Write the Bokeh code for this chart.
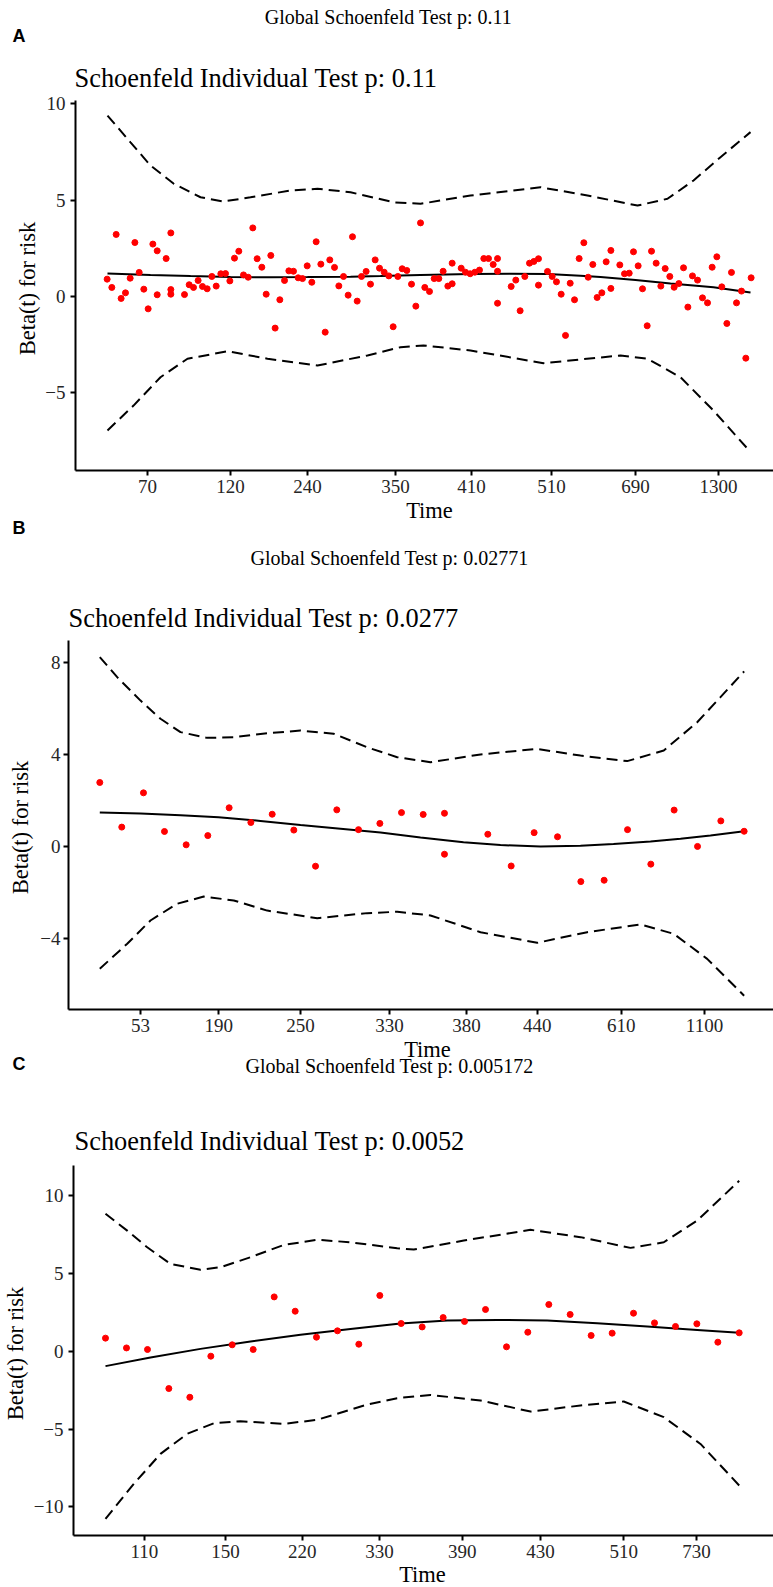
import math
from bokeh.plotting import figure
from bokeh.models import Range1d, FixedTicker, LinearAxis
from bokeh.core.properties import value
from bokeh.embed import file_html
from bokeh.resources import INLINE

# ------------------------------------------------------------------
# Panel A  (x = KM-transformed time, arbitrary units; y = Beta(t))
# ------------------------------------------------------------------
a_global = "Global Schoenfeld Test p: 0.11"
a_sub = "Schoenfeld Individual Test p: 0.11"
a_x = [4.52, 5.19, 5.81, 6.52, 7.14, 7.81, 8.48, 9.10, 9.76, 10.38, 11.05, 11.67, 11.67,
       12.95, 13.62, 13.62, 13.62, 15.57, 16.24, 16.86, 17.52, 18.14, 18.81, 19.48, 20.10,
       20.76, 21.43, 22.05, 22.71, 23.33, 24.00, 24.67, 25.33, 25.95, 26.62, 27.24, 27.90,
       28.52, 29.19, 29.86, 30.48, 31.14, 31.81, 32.43, 33.10, 33.76, 34.38, 35.05, 35.67,
       36.33, 37.00, 37.62, 38.29, 38.95, 39.57, 40.24, 40.86, 41.52, 42.14, 42.81, 43.43,
       44.10, 44.76, 45.38, 46.05, 46.67, 47.33, 48.00, 48.62, 49.29, 49.90, 50.57, 51.24,
       51.90, 52.52, 53.19, 53.81, 53.81, 55.10, 55.71, 56.38, 57.05, 57.71, 58.33, 59.00,
       59.67, 60.29, 60.29, 60.29, 62.24, 62.90, 63.52, 64.19, 64.86, 65.48, 66.14, 66.14,
       67.43, 68.10, 68.71, 69.38, 70.00, 70.67, 71.29, 71.95, 72.62, 73.24, 73.90, 74.52,
       75.19, 75.81, 76.48, 76.48, 77.76, 78.43, 79.10, 79.71, 80.38, 81.00, 81.67, 82.29,
       82.95, 83.62, 84.24, 84.90, 85.52, 86.19, 86.86, 87.48, 88.14, 88.86, 89.57, 90.29,
       90.95, 91.62, 92.33, 93.05, 93.71, 94.43, 95.14, 95.76, 96.52]
a_y = [0.90, 0.47, 3.22, -0.10, 0.19, 0.95, 2.80, 1.25, 0.38, -0.64, 2.72, 2.37, 0.09,
       1.97, 3.30, 0.36, 0.12, 0.10, 0.61, 0.47, 0.83, 0.52, 0.40, 1.04, 0.54,
       1.18, 1.19, 0.81, 1.99, 2.35, 1.12, 1.00, 3.56, 1.96, 1.52, 0.12, 2.13,
       -1.64, -0.17, 0.83, 1.33, 1.31, 0.97, 0.93, 1.59, 0.74, 2.84, 1.68, -1.85,
       1.90, 1.51, 0.55, 1.04, 0.07, 3.10, -0.24, 1.04, 1.30, 0.64, 1.90, 1.47,
       1.26, 1.07, -1.57, 1.04, 1.44, 1.35, 0.64, -0.50, 3.82, 0.47, 0.26, 0.93,
       0.93, 1.31, 0.54, 0.66, 1.73, 1.47, 1.26, 1.18, 1.26, 1.37, 1.97, 1.97,
       1.66, 1.97, 1.31, -0.35, 0.52, 0.85, -0.74, 1.04, 1.73, 1.82, 1.96, 0.59,
       1.30, 1.04, 0.76, 0.12, -2.02, 0.69, -0.17, 1.97, 2.79, 1.00, 1.66, -0.05,
       0.19, 1.80, 2.39, 0.42, 1.64, 1.18, 1.21, 2.32, 1.59, 0.40, -1.52, 2.35,
       1.73, 0.54, 1.45, 1.04, 0.48, 0.67, 1.49, -0.55, 1.07, 0.85, -0.07, -0.33,
       1.52, 2.06, 0.50, -1.40, 1.25, -0.33, 0.28, -3.20, 0.97]
a_fit_x = [4.57, 10.71, 16.43, 22.14, 27.86, 33.14, 39.29, 43.57, 49.29, 56.43, 62.14,
           67.43, 72.14, 75.00, 80.00, 85.00, 91.14, 96.43]
a_fit_y = [1.19, 1.12, 1.06, 1.01, 1.00, 1.01, 1.03, 1.06, 1.11, 1.17, 1.18,
           1.17, 1.08, 1.01, 0.85, 0.68, 0.48, 0.21]
a_up_x = [4.57, 7.86, 10.71, 14.00, 17.86, 21.14, 25.00, 30.71, 34.57, 39.29, 45.43,
          49.29, 56.43, 66.43, 73.14, 80.29, 84.57, 88.29, 92.14, 96.43]
a_up_y = [9.39, 8.00, 6.80, 5.86, 5.15, 4.93, 5.15, 5.50, 5.59, 5.41, 4.89,
          4.81, 5.24, 5.67, 5.24, 4.72, 5.07, 6.02, 7.23, 8.53]
a_lo_x = [4.57, 8.29, 12.14, 16.00, 21.71, 27.43, 34.57, 41.71, 46.43, 49.71, 56.43,
          66.86, 77.86, 81.71, 86.43, 91.14, 96.43]
a_lo_y = [-6.95, -5.66, -4.19, -3.23, -2.84, -3.23, -3.58, -3.06, -2.63, -2.54, -2.80,
          -3.46, -3.06, -3.23, -4.19, -5.92, -8.07]
a_xticks = [10.29, 22.14, 33.14, 45.71, 56.57, 68.00, 80.00, 91.86]
a_xlabels = ["70", "120", "240", "350", "410", "510", "690", "1300"]
a_yticks = [-5, 0, 5, 10]

# ------------------------------------------------------------------
# Panel B
# ------------------------------------------------------------------
b_global = "Global Schoenfeld Test p: 0.02771"
b_sub = "Schoenfeld Individual Test p: 0.0277"
b_x = [4.47, 7.61, 10.71, 13.71, 16.81, 19.90, 22.95, 26.05, 29.10, 32.19, 35.29, 38.33,
       41.43, 44.48, 47.57, 50.67, 53.71, 53.71, 59.90, 63.24, 66.52, 69.86, 73.19, 76.52,
       79.86, 83.19, 86.52, 89.86, 93.19, 96.52]
b_y = [2.77, 0.83, 2.32, 0.64, 0.06, 0.46, 1.67, 1.03, 1.39, 0.70, -0.87, 1.58,
       0.72, 0.99, 1.46, 1.38, 1.43, -0.35, 0.52, -0.86, 0.59, 0.41, -1.54, -1.48,
       0.72, -0.78, 1.57, -0.01, 1.10, 0.65]
b_fit_x = [4.47, 10.29, 16.00, 21.43, 27.43, 33.14, 38.86, 44.57, 50.29, 56.43, 61.71,
           67.43, 73.14, 77.86, 83.14, 87.43, 91.71, 96.52]
b_fit_y = [1.47, 1.42, 1.35, 1.26, 1.10, 0.92, 0.76, 0.60, 0.38, 0.17, 0.05,
           -0.01, 0.02, 0.10, 0.20, 0.32, 0.47, 0.65]
b_up_x = [4.47, 6.96, 10.29, 13.14, 16.00, 19.81, 23.57, 28.39, 33.14, 37.86, 42.67,
          46.96, 51.71, 58.86, 66.96, 73.14, 79.81, 85.04, 89.81, 93.14, 96.52]
b_up_y = [8.22, 7.35, 6.33, 5.54, 4.96, 4.71, 4.74, 4.91, 5.03, 4.89, 4.30,
          3.87, 3.65, 3.99, 4.23, 3.94, 3.70, 4.16, 5.39, 6.48, 7.60]
b_lo_x = [4.47, 8.39, 11.71, 15.53, 19.33, 23.61, 28.39, 35.53, 42.67, 46.96, 51.71,
          58.86, 66.96, 74.10, 81.71, 86.47, 91.24, 96.52]
b_lo_y = [-5.33, -4.24, -3.23, -2.50, -2.19, -2.36, -2.80, -3.13, -2.91, -2.85, -3.01,
          -3.74, -4.20, -3.74, -3.40, -3.81, -4.90, -6.50]
b_xticks = [10.29, 21.47, 33.14, 45.86, 56.86, 66.96, 78.96, 90.86]
b_xlabels = ["53", "190", "250", "330", "380", "440", "610", "1100"]
b_yticks = [-4, 0, 4, 8]

# ------------------------------------------------------------------
# Panel C
# ------------------------------------------------------------------
c_global = "Global Schoenfeld Test p: 0.005172"
c_sub = "Schoenfeld Individual Test p: 0.0052"
c_x = [4.57, 7.57, 10.57, 13.62, 16.62, 19.62, 22.67, 25.67, 28.67, 31.67, 34.71, 37.71,
       40.76, 43.76, 46.81, 49.81, 52.81, 55.86, 58.86, 61.86, 64.90, 67.90, 70.95, 73.95,
       76.95, 80.00, 83.00, 86.00, 89.05, 92.05, 95.10]
c_y = [0.84, 0.21, 0.11, -2.40, -2.96, -0.32, 0.41, 0.11, 3.49, 2.57, 0.90, 1.31,
       0.45, 3.58, 1.78, 1.56, 2.16, 1.91, 2.68, 0.28, 1.22, 3.00, 2.36, 1.01,
       1.16, 2.44, 1.82, 1.59, 1.76, 0.58, 1.18]
c_fit_x = [4.57, 11.00, 18.14, 25.29, 32.43, 39.57, 46.71, 53.39, 60.53, 67.67, 74.81,
           81.96, 89.10, 95.10]
c_fit_y = [-0.96, -0.40, 0.15, 0.62, 1.05, 1.42, 1.78, 1.97, 2.01, 1.97, 1.80,
           1.59, 1.37, 1.18]
c_up_x = [4.57, 7.67, 10.53, 13.86, 18.14, 21.00, 25.29, 30.04, 34.81, 39.57, 46.24,
          48.61, 55.76, 65.29, 72.43, 79.57, 84.33, 89.10, 95.10]
c_up_y = [8.83, 7.75, 6.68, 5.61, 5.23, 5.40, 6.04, 6.83, 7.16, 7.00, 6.62,
          6.53, 7.11, 7.80, 7.33, 6.64, 7.00, 8.40, 10.95]
c_lo_x = [4.57, 8.61, 12.43, 16.24, 20.04, 23.86, 30.04, 34.81, 41.96, 46.24, 51.00,
          58.14, 65.29, 72.43, 78.61, 84.33, 89.57, 95.10]
c_lo_y = [-10.78, -8.53, -6.60, -5.31, -4.63, -4.50, -4.67, -4.41, -3.43, -3.02, -2.81,
          -3.17, -3.88, -3.49, -3.23, -4.24, -5.96, -8.63]
c_xticks = [10.14, 21.71, 32.67, 43.71, 55.53, 66.71, 78.61, 89.00]
c_xlabels = ["110", "150", "220", "330", "390", "430", "510", "730"]
c_yticks = [-10, -5, 0, 5, 10]

ylab = "Beta(t) for risk"
xlab = "Time"

# ------------------------------------------------------------------
W, H = 773, 1587
PX_PER_UNIT_X = 7.0
SERIF = "Liberation Serif"
SANS = "Liberation Sans"
F_GLOBAL = 20
F_SUB = 26.4
F_AXIS = 22.5
F_TICK = 19
F_LETTER = 18
TICK_COLOR = "#262626"
DASH = "11 6"

# one canvas for the three stacked panels; the default ranges are page pixels
p = figure(width=W, height=H, title=None, x_range=Range1d(0, W), y_range=Range1d(0, H),
           x_axis_type=None, y_axis_type=None, min_border=0,
           output_backend="svg", toolbar_location=None)
p.outline_line_color = None
p.background_fill_color = "white"
p.border_fill_color = "white"

# panel geometry on the page: y-axis x position, pixel row of beta = 0,
# pixels per beta unit, and the beta limits of the panel
panels = [
    dict(key="A", axis_px=75, zero_py=296.0, k=19.27, ylim=(-9.03, 10.17),
         data=(a_x, a_y, a_fit_x, a_fit_y, a_up_x, a_up_y, a_lo_x, a_lo_y),
         xt=a_xticks, xl=a_xlabels, yt=a_yticks, ystand=5),
    dict(key="B", axis_px=68, zero_py=845.7, k=23.0, ylim=(-7.11, 8.94),
         data=(b_x, b_y, b_fit_x, b_fit_y, b_up_x, b_up_y, b_lo_x, b_lo_y),
         xt=b_xticks, xl=b_xlabels, yt=b_yticks, ystand=3),
    dict(key="C", axis_px=73, zero_py=1350.7, k=15.56, ylim=(-11.85, 11.93),
         data=(c_x, c_y, c_fit_x, c_fit_y, c_up_x, c_up_y, c_lo_x, c_lo_y),
         xt=c_xticks, xl=c_xlabels, yt=c_yticks, ystand=5),
]

xr, yr = {}, {}
for P in panels:
    ax, z, k = P["axis_px"], P["zero_py"], P["k"]
    xr["x" + P["key"]] = Range1d(-ax / PX_PER_UNIT_X, (W - ax) / PX_PER_UNIT_X)
    yr["y" + P["key"]] = Range1d((z - H) / k, z / k)
p.extra_x_ranges = xr
p.extra_y_ranges = yr


def style_axis(a):
    a.axis_line_width = 2
    a.axis_line_color = "black"
    a.major_tick_line_width = 2
    a.major_tick_line_color = "black"
    a.major_tick_in = 0
    a.major_tick_out = 5
    a.minor_tick_line_color = None
    a.major_label_text_font = SERIF
    a.major_label_text_font_size = f"{F_TICK}px"
    a.major_label_text_color = TICK_COLOR


for P in panels:
    xn, yn = "x" + P["key"], "y" + P["key"]
    ylo, yhi = P["ylim"]
    x_end = (W - P["axis_px"]) / PX_PER_UNIT_X
    px_, py_, fx, fy, ux, uy, lx, ly = P["data"]

    yax = LinearAxis(x_range_name=xn, y_range_name=yn, fixed_location=0,
                     bounds=(ylo, yhi), ticker=FixedTicker(ticks=P["yt"]))
    style_axis(yax)
    yax.major_label_overrides = {t: str(t).replace("-", "\u2212") for t in P["yt"]}
    yax.major_label_standoff = P["ystand"]
    p.add_layout(yax, "left")

    xax = LinearAxis(x_range_name=xn, y_range_name=yn, fixed_location=ylo,
                     bounds=(0, x_end), ticker=FixedTicker(ticks=P["xt"]))
    style_axis(xax)
    xax.major_label_overrides = {t: s for t, s in zip(P["xt"], P["xl"])}
    xax.major_label_standoff = 4
    p.add_layout(xax, "below")

    p.line(ux, uy, line_color="black", line_width=2, line_dash=DASH,
           x_range_name=xn, y_range_name=yn)
    p.line(lx, ly, line_color="black", line_width=2, line_dash=DASH,
           x_range_name=xn, y_range_name=yn)
    p.line(fx, fy, line_color="black", line_width=2, x_range_name=xn, y_range_name=yn)
    p.scatter(px_, py_, size=6, fill_color="red", line_color="red",
              x_range_name=xn, y_range_name=yn)


def put(X, Y, s, size, font=SERIF, style="normal", align="left", angle=0.0):
    """Place a text centred vertically on page pixel row Y (measured from the top)."""
    p.text(x=[X], y=[H - Y], text=[s], text_font=value(font),
           text_font_size=value(f"{size}px"), text_font_style=value(style),
           text_align=value(align), text_baseline=value("middle"),
           angle=angle, text_color="black")


# panel A texts
put(388, 16, a_global, F_GLOBAL, align="center")
put(12, 35, "A", F_LETTER, font=SANS, style="bold")
put(74, 77, a_sub, F_SUB)
put(27, 288, ylab, F_AXIS, align="center", angle=math.pi / 2)
put(429, 510, xlab, F_AXIS, align="center")
# panel B texts
put(12, 527, "B", F_LETTER, font=SANS, style="bold")
put(389, 557, b_global, F_GLOBAL, align="center")
put(68, 617, b_sub, F_SUB)
put(20, 827, ylab, F_AXIS, align="center", angle=math.pi / 2)
put(427, 1049, xlab, F_AXIS, align="center")
# panel C texts
put(12, 1063, "C", F_LETTER, font=SANS, style="bold")
put(389, 1065, c_global, F_GLOBAL, align="center")
put(74, 1140, c_sub, F_SUB)
put(15, 1353, ylab, F_AXIS, align="center", angle=math.pi / 2)
put(422, 1574, xlab, F_AXIS, align="center")

open("out.html", "w").write(file_html(p, INLINE))
